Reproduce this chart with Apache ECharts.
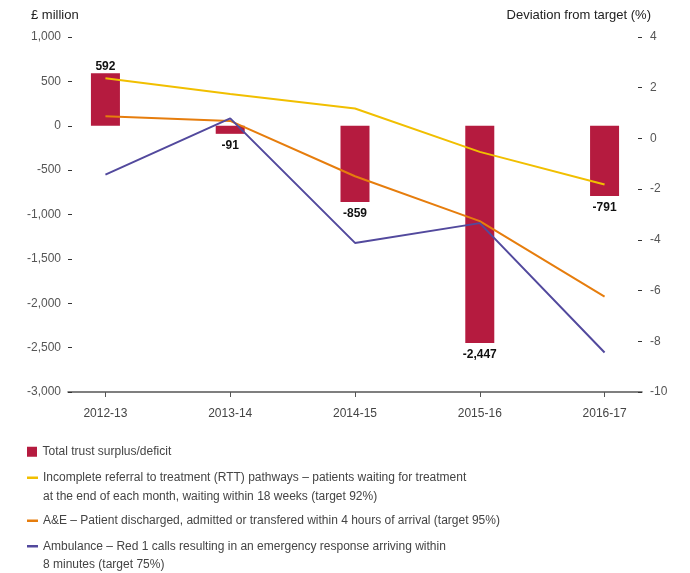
<!DOCTYPE html>
<html>
<head>
<meta charset="utf-8">
<script src="https://cdn.jsdelivr.net/npm/echarts@6/dist/echarts.min.js"></script>
<style>
  html, body { margin: 0; padding: 0; background: #fff; }
  #chart { width: 690px; height: 573px; }
</style>
</head>
<body>
<div id="chart"></div>
<script>
// categories and values
var years = ["2012-13", "2013-14", "2014-15", "2015-16", "2016-17"];
var surplus = [592, -91, -859, -2447, -791];          // £ million
var rtt = [2.37, 1.75, 1.18, -0.53, -1.82];          // deviation %
var ae = [0.87, 0.69, -1.49, -3.26, -6.24];
var ambulance = [-1.43, 0.79, -4.12, -3.34, -8.44];

var names = [
  "Total trust surplus/deficit",
  "Incomplete referral to treatment (RTT) pathways – patients waiting for treatment\nat the end of each month, waiting within 18 weeks (target 92%)",
  "A&E – Patient discharged, admitted or transfered within 4 hours of arrival (target 95%)",
  "Ambulance – Red 1 calls resulting in an emergency response arriving within\n8 minutes (target 75%)"
];
var colors = ["#b51b3f", "#f1bf00", "#e67d0d", "#52499d"];
var font = "'Liberation Sans', Arial, sans-serif";

function fmt(v) {
  return v.toLocaleString("en-US");
}
function pairs(arr) {
  return arr.map(function (v, i) { return [i, v]; });
}

var chart = echarts.init(document.getElementById("chart"));

// one legend per row so the icon sits on the first line of wrapped text
var legendTops = [442.5, 450, 511.5, 518.5];
var legends = names.map(function (n, i) {
  return {
    data: [{ name: n, icon: i === 0 ? "path://M0 0h10v10H0z" : "rect" }],
    left: 27,
    top: legendTops[i],
    padding: 0,
    orient: "vertical",
    itemWidth: 11,
    itemHeight: i === 0 ? 10 : 2.5,
    selectedMode: false,
    formatter: function (name) {
      return name.indexOf("\n") >= 0 ? "\n" + name : name;
    },
    textStyle: { fontFamily: font, fontSize: 12, color: "#444", lineHeight: 18.5 }
  };
});

var option = {
  animation: false,
  color: colors,
  title: [
    { text: "£ million", left: 26, top: 4, textStyle: { fontFamily: font, fontSize: 13, fontWeight: "normal", color: "#222" } },
    { text: "Deviation from target (%)", right: 34, top: 4, textStyle: { fontFamily: font, fontSize: 13, fontWeight: "normal", color: "#222" } }
  ],
  legend: legends,
  grid: { left: 68, right: 48, top: 37, bottom: 181, containLabel: false, outerBoundsMode: "none" },
  xAxis: {
    type: "value",
    min: -0.3,
    max: 4.3,
    axisLine: { show: true, onZero: false, lineStyle: { color: "#555", width: 1.5 } },
    axisTick: { show: true, length: 5, customValues: [0, 1, 2, 3, 4], lineStyle: { color: "#555" } },
    axisLabel: {
      customValues: [0, 1, 2, 3, 4],
      formatter: function (v) { return years[v]; },
      margin: 16,
      fontFamily: font, fontSize: 12, color: "#444"
    },
    splitLine: { show: false }
  },
  yAxis: [
    {
      type: "value",
      min: -3000,
      max: 1000,
      interval: 500,
      axisLine: { show: false, onZero: false },
      axisTick: { show: true, inside: true, length: 4, lineStyle: { color: "#333" } },
      axisLabel: { formatter: fmt, margin: 7, fontFamily: font, fontSize: 12, color: "#555" },
      splitLine: { show: false }
    },
    {
      type: "value",
      position: "right",
      min: -10,
      max: 4,
      interval: 2,
      axisLine: { show: false, onZero: false },
      axisTick: { show: true, inside: true, length: 4, lineStyle: { color: "#333" } },
      axisLabel: { margin: 8, fontFamily: font, fontSize: 12, color: "#555" },
      splitLine: { show: false }
    }
  ],
  series: [
    {
      name: names[0],
      type: "bar",
      barWidth: 29,
      yAxisIndex: 0,
      itemStyle: { color: colors[0] },
      data: surplus.map(function (v, i) {
        return {
          value: [i, v],
          label: v >= 0 ? { position: "top", distance: 1 } : { position: "bottom", distance: 6 }
        };
      }),
      label: {
        show: true,
        formatter: function (p) { return fmt(p.value[1]); },
        fontFamily: font, fontSize: 12, fontWeight: "bold", color: "#111"
      }
    },
    {
      name: names[1], type: "line", yAxisIndex: 1, symbol: "none",
      lineStyle: { width: 2, color: colors[1] }, itemStyle: { color: colors[1] },
      data: pairs(rtt)
    },
    {
      name: names[2], type: "line", yAxisIndex: 1, symbol: "none",
      lineStyle: { width: 2, color: colors[2] }, itemStyle: { color: colors[2] },
      data: pairs(ae)
    },
    {
      name: names[3], type: "line", yAxisIndex: 1, symbol: "none",
      lineStyle: { width: 2, color: colors[3] }, itemStyle: { color: colors[3] },
      data: pairs(ambulance)
    }
  ]
};

chart.setOption(option);
</script>
</body>
</html>
